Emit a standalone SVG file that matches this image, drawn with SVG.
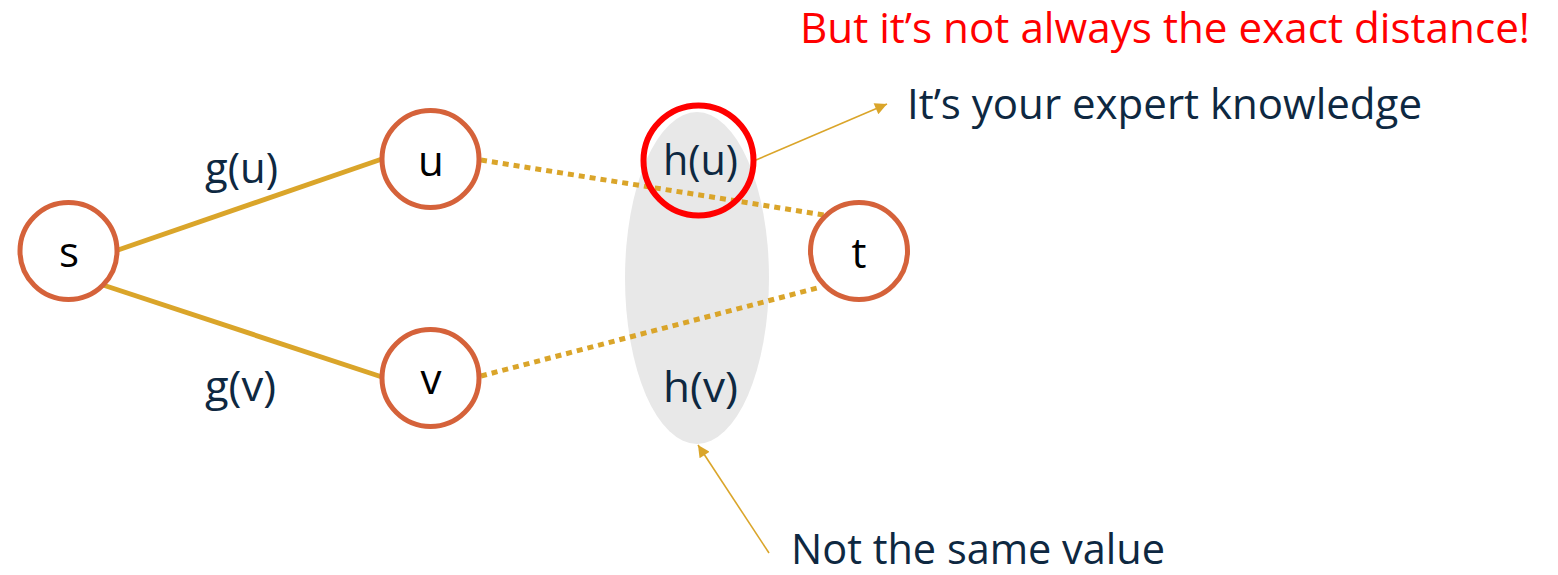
<svg xmlns="http://www.w3.org/2000/svg" width="1558" height="575" viewBox="0 0 1558 575">
<defs>
<style>
.node{fill:#FFFFFF;stroke:#D5623A;stroke-width:5}
.nl{font-family:"Open Sans","Noto Sans",sans-serif;font-size:42px;fill:#000000;text-anchor:middle}
.lbl{font-family:"Open Sans","Noto Sans",sans-serif;font-size:42px;fill:#0E2841}
.solid{stroke:#DAA52A;stroke-width:5;fill:none}
.dot{stroke:#DAA52A;stroke-width:5;fill:none;stroke-dasharray:6 5}
.thin{stroke:#DAA52A;stroke-width:1.6;fill:none}
</style>
<marker id="ah" viewBox="0 0 10 10" refX="10" refY="5" markerWidth="14" markerHeight="12" markerUnits="userSpaceOnUse" orient="auto">
<path d="M0,0 L10,5 L0,10 Z" fill="#DAA52A"/>
</marker>
</defs>
<rect width="1558" height="575" fill="#FFFFFF"/>
<g id="heuristic-region">
<ellipse cx="697" cy="278" rx="72" ry="166" fill="#E8E8E8"/>
</g>
<g id="connectors">
<line class="solid" x1="118" y1="250" x2="382" y2="159"/>
<line class="solid" x1="103" y1="285" x2="382" y2="377"/>
<line class="dot" x1="481" y1="160" x2="824" y2="215"/>
<line class="dot" x1="481" y1="376" x2="821" y2="287"/>
<path d="M756,160 L887,104" class="thin" marker-end="url(#ah)"/>
<path d="M769,553 L698,445" class="thin" marker-end="url(#ah)"/>
</g>
<g id="node-s">
<circle class="node" cx="68.5" cy="251" r="48.5"/>
<text class="nl" x="69" y="267">s</text>
</g>
<g id="node-u">
<circle class="node" cx="430.5" cy="159" r="48.5"/>
<text class="nl" x="431" y="176">u</text>
</g>
<g id="node-v">
<circle class="node" cx="430.5" cy="378" r="48.5"/>
<text class="nl" x="431" y="394">v</text>
</g>
<g id="node-t">
<circle class="node" cx="859" cy="251" r="48.5"/>
<text class="nl" x="859" y="268">t</text>
</g>
<g id="hu-highlight">
<circle cx="698.5" cy="160.5" r="55" fill="none" stroke="#FF0000" stroke-width="6"/>
</g>
<g id="labels">
<text class="lbl" x="205" y="183" textLength="73" lengthAdjust="spacingAndGlyphs">g(u)</text>
<text class="lbl" x="205" y="401" textLength="71" lengthAdjust="spacingAndGlyphs">g(v)</text>
<text class="lbl" x="663" y="175" textLength="75" lengthAdjust="spacingAndGlyphs">h(u)</text>
<text class="lbl" x="663" y="402" textLength="75" lengthAdjust="spacingAndGlyphs">h(v)</text>
<text class="lbl" x="907" y="119" textLength="515" lengthAdjust="spacingAndGlyphs">It’s your expert knowledge</text>
<text class="lbl" x="791" y="564" textLength="374" lengthAdjust="spacingAndGlyphs">Not the same value</text>
<text class="lbl" x="800" y="43" textLength="730" lengthAdjust="spacingAndGlyphs" style="fill:#FF0000">But it’s not always the exact distance!</text>
</g>
</svg>
